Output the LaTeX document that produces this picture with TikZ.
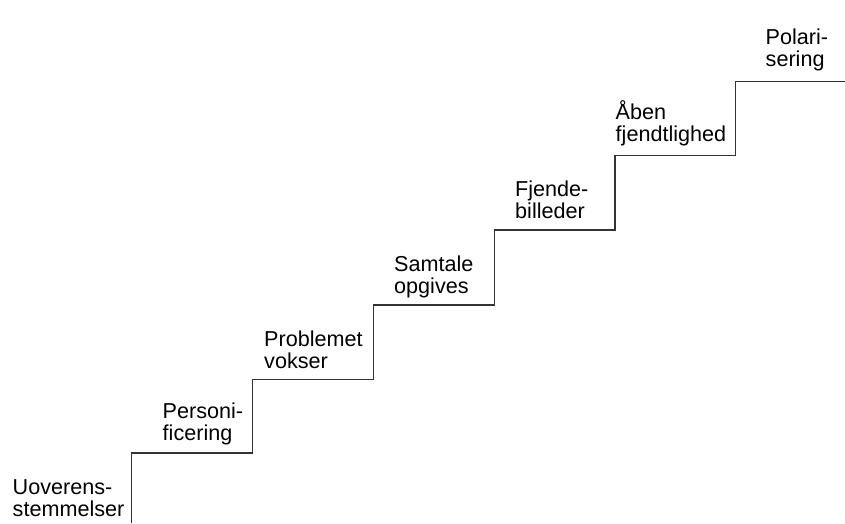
\documentclass[tikz,border=0pt]{standalone}
\usepackage{fontspec}
\setmainfont{Liberation Sans}
\begin{document}
\begin{tikzpicture}[x=1pt, y=-1pt,
  stair/.style={line width=1.3pt, draw=black!80, line join=miter},
  stage/.style={anchor=base west, align=left, inner sep=0pt,
    font=\fontsize{21.6}{22}\selectfont}]
  \useasboundingbox (0,0) rectangle (845,523);

  % riser corners of the staircase
  \coordinate (s0) at (131.5,523);
  \coordinate (s1) at (131.5,453);
  \coordinate (s2) at (252.5,453);
  \coordinate (s3) at (252.5,379.5);
  \coordinate (s4) at (373.5,379.5);
  \coordinate (s5) at (373.5,305);
  \coordinate (s6) at (494.5,305);
  \coordinate (s7) at (494.5,230);
  \coordinate (s8) at (615,230);
  \coordinate (s9) at (615,155.5);
  \coordinate (s10) at (735.5,155.5);
  \coordinate (s11) at (735.5,81.5);
  \coordinate (s12) at (845,81.5);

  \draw[stair] (s0) -- (s1) -- (s2) -- (s3) -- (s4) -- (s5) -- (s6)
    -- (s7) -- (s8) -- (s9) -- (s10) -- (s11) -- (s12);

  % one label per step, placed by the baseline of its last line
  \node[stage] (l1) at (12.5,516.7) {Uoverens-\\stemmelser};
  \node[stage] (l2) at (162.5,440.5) {Personi-\\ficering};
  \node[stage] (l3) at (264,368) {Problemet\\vokser};
  \node[stage] (l4) at (394,293.3) {Samtale\\opgives};
  \node[stage] (l5) at (515,218.3) {Fjende-\\billeder};
  \node[stage] (l6) at (615.5,141.7) {Åben\\fjendtlighed};
  \node[stage] (l7) at (765.5,66.7) {Polari-\\sering};
\end{tikzpicture}
\end{document}
